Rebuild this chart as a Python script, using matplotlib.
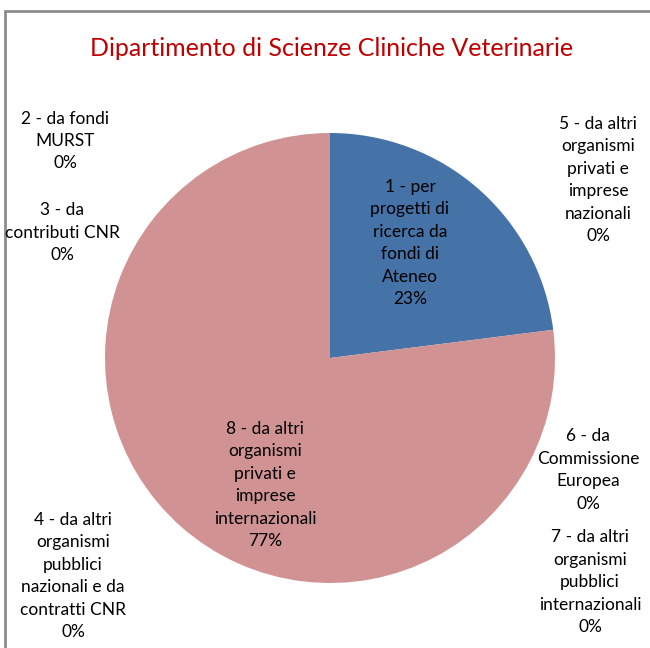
import matplotlib
matplotlib.use("Agg")
import matplotlib.pyplot as plt
from matplotlib.patches import Rectangle

plt.rcParams['font.family'] = ['Lato', 'DejaVu Sans']

# Data
categories = [
    "1 - per\nprogetti di\nricerca da\nfondi di\nAteneo",
    "2 - da fondi\nMURST",
    "3 - da\ncontributi CNR",
    "4 - da altri\norganismi\npubblici\nnazionali e da\ncontratti CNR",
    "5 - da altri\norganismi\nprivati e\nimprese\nnazionali",
    "6 - da\nCommissione\nEuropea",
    "7 - da altri\norganismi\npubblici\ninternazionali",
    "8 - da altri\norganismi\nprivati e\nimprese\ninternazionali",
]
values = [23, 0, 0, 0, 0, 0, 0, 77]
colors = ["#4572A7", "#4572A7", "#4572A7", "#4572A7", "#4572A7", "#4572A7", "#4572A7", "#D09292"]

W, H = 650, 648
fig = plt.figure(figsize=(W / 100, H / 100), dpi=100)

# frame (only left/top edges fall inside the picture)
fig.patches.append(Rectangle((5 / W, -0.05), 1.2, (H - 11) / H + 0.05, transform=fig.transFigure,
                             fill=False, edgecolor="#8C8C8C", linewidth=2))

# pie axes: center (330, 358) px, radius 225 px
cx, cy, r = 330, 358, 225
ax = fig.add_axes([(cx - r) / W, (H - cy - r) / H, 2 * r / W, 2 * r / H])
ax.pie(values, colors=colors, startangle=90, counterclock=False,
       wedgeprops=dict(linewidth=0))
ax.set_xlim(-1, 1)
ax.set_ylim(-1, 1)
ax.set_aspect("equal")
ax.axis("off")

fig.text(332 / W, 1 - 48 / H, "Dipartimento di Scienze Cliniche Veterinarie",
         ha="center", va="center", color="#C00000", fontsize=18)

# label positions (pixel centers)
label_pos = [(410, 243), (65, 141), (62, 233), (73, 576),
             (598, 180), (588, 470), (590, 582), (265, 485)]
for cat, v, (x, y) in zip(categories, values, label_pos):
    fig.text(x / W, 1 - y / H, f"{cat}\n{v}%", ha="center", va="center",
             fontsize=12.5, linespacing=1.5, color="black")

fig.savefig("out.png", dpi=100)
